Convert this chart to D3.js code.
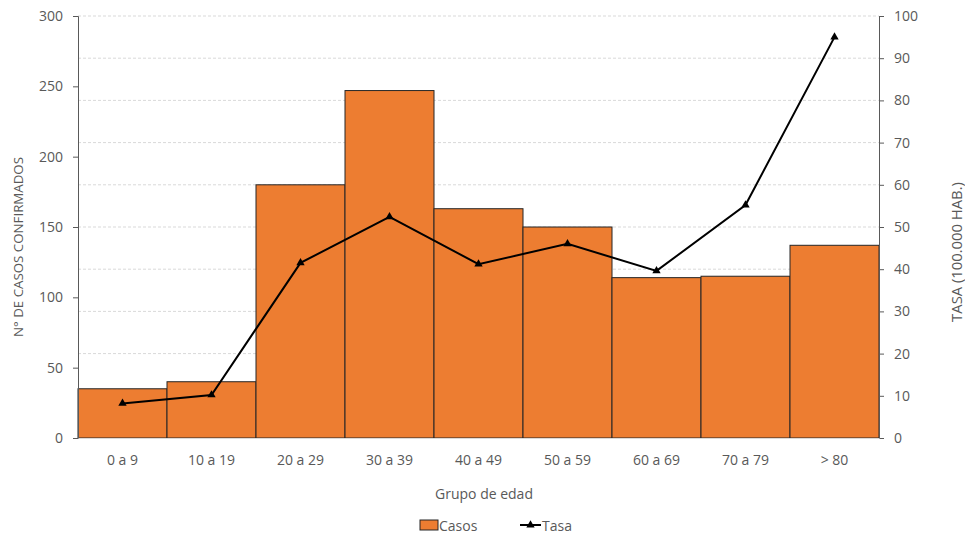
<!DOCTYPE html>
<html><head><meta charset="utf-8">
<script src="https://cdn.jsdelivr.net/npm/d3@7"></script>
<style>body{margin:0;background:#fff;} text{font-family:"Open Sans","Liberation Sans",sans-serif;fill:#595959;}</style>
</head><body><svg id="c" width="965" height="536"></svg>
<script>
const categories = ["0 a 9","10 a 19","20 a 29","30 a 39","40 a 49","50 a 59","60 a 69","70 a 79","> 80"];
const casos = [35, 40, 180, 247, 163, 150, 114, 115, 137];
const tasa = [8.2, 10.2, 41.5, 52.4, 41.2, 46, 39.6, 55.2, 95];
const leftTicks = [0,50,100,150,200,250,300];
const rightTicks = [0,10,20,30,40,50,60,70,80,90,100];

const svg = d3.select("#c");
const L=78, R=879, T=16, B=438;
const x = d3.scaleBand().domain(categories).range([L,R]).padding(0);
const yL = d3.scaleLinear().domain([0,300]).range([B,T]);
const yR = d3.scaleLinear().domain([0,100]).range([B,T]);

// gridlines
svg.append("g").selectAll("line").data(rightTicks.filter(d=>d>0)).join("line")
  .attr("x1",L).attr("x2",R).attr("y1",d=>yR(d)).attr("y2",d=>yR(d))
  .attr("stroke","#d9d9d9").attr("stroke-dasharray","3,2").attr("stroke-width",1);

// bars
svg.append("g").selectAll("rect").data(casos).join("rect")
  .attr("x",(d,i)=>x(categories[i])).attr("width",x.bandwidth())
  .attr("y",d=>yL(d)).attr("height",d=>B-yL(d))
  .attr("fill","#ED7D31").attr("stroke","#262626").attr("stroke-width",1);

// axes
const ax = svg.append("g").attr("transform",`translate(${L},0)`).call(d3.axisLeft(yL).tickValues(leftTicks).tickSize(5).tickPadding(10));
const axR = svg.append("g").attr("transform",`translate(${R},0)`).call(d3.axisRight(yR).tickValues(rightTicks).tickSize(5).tickPadding(10));
const axB = svg.append("g").attr("transform",`translate(0,${B})`).call(d3.axisBottom(x).tickSize(0).tickPadding(17));
[ax,axR].forEach(a=>{a.select(".domain").attr("stroke","#595959");a.selectAll(".tick line").attr("stroke","#595959");});
axB.select(".domain").attr("stroke","#d9d9d9");
[ax,axR,axB].forEach(a=>a.selectAll("text").style("font-size","14px").style("fill","#595959").style("font-family","'Open Sans','Liberation Sans',sans-serif"));

// line
const line = d3.line().x((d,i)=>x(categories[i])+x.bandwidth()/2).y(d=>yR(d));
svg.append("path").datum(tasa).attr("d",line).attr("fill","none").attr("stroke","#000").attr("stroke-width",2);
const tri = d3.symbol().type(d3.symbolTriangle).size(30);
svg.append("g").selectAll("path").data(tasa).join("path")
  .attr("d",tri).attr("transform",(d,i)=>`translate(${x(categories[i])+x.bandwidth()/2},${yR(d)})`).attr("fill","#000");

// axis titles
svg.append("text").attr("transform","translate(23,247) rotate(-90)").attr("text-anchor","middle").style("font-size","13.3px").text("N° DE CASOS CONFIRMADOS");
svg.append("text").attr("transform","translate(962,252) rotate(-90)").attr("text-anchor","middle").style("font-size","14.8px").text("TASA (100.000 HAB.)");
svg.append("text").attr("x",484).attr("y",499).attr("text-anchor","middle").style("font-size","14px").text("Grupo de edad");

// legend
const lg = svg.append("g");
lg.append("rect").attr("x",420).attr("y",520).attr("width",18).attr("height",10).attr("fill","#ED7D31").attr("stroke","#262626");
lg.append("text").attr("x",439).attr("y",531).style("font-size","14px").text("Casos");
lg.append("line").attr("x1",520).attr("x2",541).attr("y1",525).attr("y2",525).attr("stroke","#000").attr("stroke-width",2);
lg.append("path").attr("d",tri).attr("transform","translate(530.5,525)").attr("fill","#000");
lg.append("text").attr("x",542).attr("y",531).style("font-size","14px").text("Tasa");
</script></body></html>
